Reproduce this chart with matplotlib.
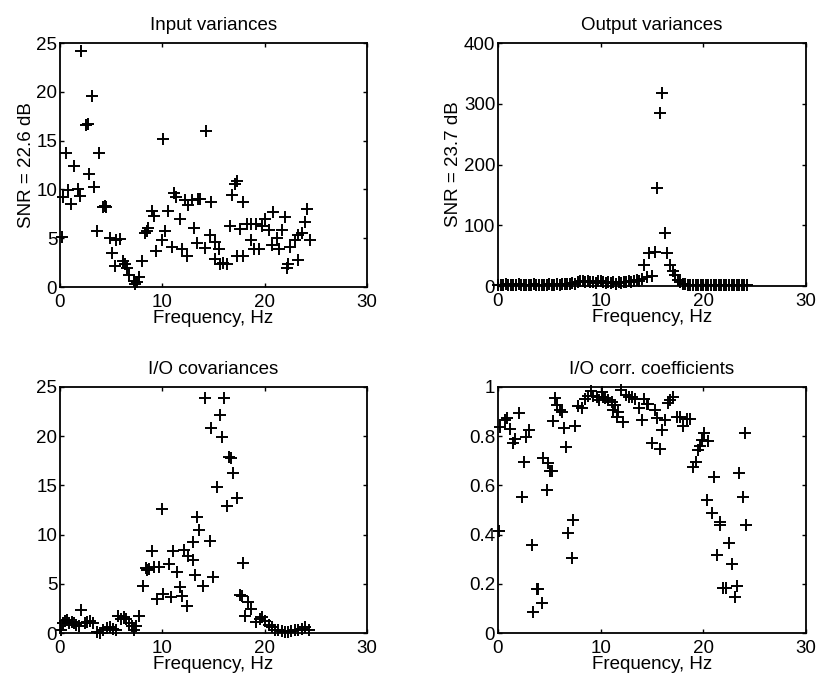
import matplotlib
matplotlib.use("Agg")
import matplotlib.pyplot as plt

plt.rcParams['font.family'] = ['Liberation Sans', 'DejaVu Sans']

# ---- Input variances ----
in_f = [0.16,0.33,0.55,0.8,1.07,1.37,1.73,1.95,2.1,2.55,2.7,2.87,3.1,3.35,3.65,3.8,4.2,4.35,4.5,4.9,
        5.05,5.4,5.5,5.85,6.2,6.35,6.5,6.7,7.2,7.35,7.5,7.7,8.05,8.3,8.5,8.6,8.95,9.2,9.4,9.95,
        10.1,10.3,10.6,10.9,11.1,11.3,11.7,11.9,12.2,12.45,12.55,12.9,13.1,13.35,13.5,13.7,14.2,14.3,14.65,14.8,
        15.1,15.15,15.5,15.6,15.9,16.3,16.6,16.8,17.1,17.3,17.3,17.6,17.9,17.9,18.3,18.7,18.7,19.0,19.2,19.4,
        19.7,20.0,20.4,20.7,20.85,21.2,21.4,21.65,22.0,22.2,22.3,22.5,23.0,23.3,23.3,23.6,23.95,24.1,24.4]
in_v = [5.1,9.2,13.7,9.9,8.5,12.35,10.0,9.3,24.2,16.6,16.7,11.6,19.6,10.2,5.7,13.7,8.2,8.3,8.2,5.0,
        3.5,2.2,4.8,4.9,2.7,2.4,1.9,1.2,0.6,0.3,0.5,1.0,2.7,5.5,5.7,6.0,7.8,7.3,3.7,4.85,
        15.2,5.7,7.8,4.1,9.6,9.2,7.0,3.9,8.9,3.2,8.4,8.9,6.0,4.5,9.0,9.0,4.0,16.0,5.3,8.7,
        4.6,2.9,3.9,2.4,2.5,2.4,6.3,9.4,10.6,10.9,3.2,5.9,8.7,3.2,6.5,6.5,4.85,3.9,6.5,3.9,
        6.2,7.0,5.8,4.3,7.7,5.05,3.9,5.8,7.2,1.9,2.4,4.1,4.8,2.8,5.3,5.5,6.65,8.0,4.85]

# ---- Output variances ----
out_f = [0.0,0.25,0.5,0.75,1.0,1.25,1.5,1.75,2.0,2.25,2.5,2.75,3.0,3.25,3.5,3.75,4.0,4.25,4.5,4.75,
         5.0,5.25,5.5,5.75,6.0,6.25,6.5,6.75,7.0,7.25,7.5,7.75,8.0,8.25,8.5,8.75,9.0,9.25,9.5,9.75,
         10.0,10.25,10.5,10.75,11.0,11.25,11.5,11.75,12.0,12.25,12.5,12.75,13.0,13.25,13.5,13.75,14.0,14.25,14.5,14.75,
         15.0,15.25,15.5,15.75,16.0,16.25,16.5,16.75,17.0,17.25,17.5,17.75,18.0,18.25,18.5,18.75,19.0,19.25,19.5,19.75,
         20.0,20.25,20.5,20.75,21.0,21.25,21.5,21.75,22.0,22.25,22.5,22.75,23.0,23.25,23.5,23.75,24.0,24.25]
out_v = [2,1,2,3,2,1,2,2,3,1,2,2,1,2,3,2,2,1,2,2,
         3,2,2,3,2,3,3,4,3,5,4,6,8,9,7,8,6,7,5,8,
         9,6,5,7,5,6,4,6,5,7,6,8,7,9,10,8,12,35,15,54,
         16,56,162,285,317,87,55,35,25,18,10,6,4,3,2,2,1,2,1,2,
         1,2,1,1,2,1,1,2,1,1,2,1,1,2,1,1,2,1]

# ---- I/O covariances ----
cov_f = [0.07,0.26,0.5,0.65,0.9,1.15,1.37,1.6,1.9,2.1,2.45,2.65,2.9,3.2,3.6,3.9,4.2,4.55,4.9,5.2,
         5.5,5.7,6.0,6.25,6.45,6.7,7.0,7.2,7.4,7.75,8.1,8.4,8.55,8.7,9.0,9.2,9.45,9.7,10.0,10.1,
         10.65,10.85,11.0,11.4,11.7,11.9,12.15,12.4,12.55,13.0,13.0,13.2,13.4,13.6,13.95,14.2,14.65,14.8,14.95,15.3,
         15.6,15.8,16.0,16.3,16.55,16.7,16.9,17.3,17.6,17.75,17.9,18.1,18.4,18.7,19.2,19.5,19.7,20.0,20.4,20.7,
         21.0,21.3,21.65,22.0,22.3,22.6,22.95,23.3,23.6,23.95,24.3]
cov_v = [0.3,1.0,1.2,1.3,1.05,1.15,1.0,0.8,0.7,2.3,1.0,1.15,1.25,1.0,0.15,0.0,0.3,0.5,0.6,0.4,
         0.3,1.7,1.4,1.65,1.4,1.05,0.7,0.3,0.7,1.7,4.8,6.6,6.4,6.5,8.3,6.7,3.5,6.7,12.6,4.0,
         7.0,3.7,8.3,6.2,4.7,3.75,8.4,2.7,7.8,7.4,9.2,5.9,11.75,10.5,4.8,23.85,9.3,20.8,5.65,14.8,
         22.15,19.9,23.85,12.9,17.9,17.8,16.3,13.7,3.9,3.8,7.15,1.7,3.2,2.4,1.15,1.4,1.65,1.25,0.8,0.6,
         0.35,0.3,0.25,0.15,0.15,0.25,0.3,0.35,0.45,0.65,0.35]

# ---- I/O correlation coefficients ----
cor_f = [0.1,0.2,0.7,0.9,1.17,1.43,1.66,2.05,2.3,2.53,2.73,3.05,3.28,3.44,3.8,3.9,4.32,4.35,4.74,4.9,
         5.06,5.3,5.4,5.55,5.7,6.04,6.2,6.43,6.6,6.85,7.17,7.34,7.5,7.82,8.15,8.47,8.8,9.03,9.29,9.6,
         9.87,10.1,10.26,10.4,10.75,11.07,11.23,11.4,11.56,11.72,12.0,12.2,12.5,12.8,13.1,13.35,13.7,14.0,14.2,14.5,
         14.65,14.97,15.3,15.45,15.8,16.0,16.27,16.6,16.75,17.07,17.4,17.7,18.05,18.4,18.7,19.0,19.3,19.5,19.67,19.9,
         20.1,20.35,20.5,20.8,21.07,21.3,21.6,21.6,21.95,22.2,22.5,22.75,23.1,23.25,23.5,23.85,24.06,24.2]
cor_v = [0.415,0.836,0.866,0.875,0.828,0.771,0.79,0.896,0.554,0.696,0.798,0.825,0.358,0.087,0.177,0.177,0.12,0.71,0.581,0.69,
         0.66,0.66,0.862,0.954,0.927,0.906,0.9,0.832,0.755,0.405,0.303,0.459,0.841,0.923,0.913,0.95,0.963,0.985,0.963,0.96,
         0.947,0.981,0.96,0.954,0.947,0.94,0.906,0.927,0.879,0.9,0.988,0.859,0.967,0.958,0.958,0.95,0.913,0.866,0.95,0.93,
         0.93,0.771,0.906,0.873,0.75,0.825,0.866,0.934,0.947,0.958,0.879,0.877,0.841,0.869,0.869,0.676,0.696,0.744,0.76,0.785,
         0.812,0.54,0.782,0.489,0.635,0.317,0.45,0.44,0.183,0.183,0.364,0.28,0.148,0.19,0.649,0.551,0.812,0.439]

titles = ["Input variances", "Output variances", "I/O covariances", "I/O corr. coefficients"]
ylabels = ["SNR = 22.6 dB", "SNR = 23.7 dB", "", ""]
xlabel = "Frequency, Hz"
x_ticks = [0, 10, 20, 30]
y_ticks = [[0, 5, 10, 15, 20, 25], [0, 100, 200, 300, 400], [0, 5, 10, 15, 20, 25],
           [0, 0.2, 0.4, 0.6, 0.8, 1]]
y_ticklabels = [["0", "5", "10", "15", "20", "25"], ["0", "100", "200", "300", "400"],
                ["0", "5", "10", "15", "20", "25"], ["0", "0.2", "0.4", "0.6", "0.8", "1"]]

fig = plt.figure(figsize=(8.2, 6.82), dpi=100)
W, H = 820, 682
boxes = [(60, 43, 307, 244), (498, 43, 308, 243), (60, 387, 307, 246), (498, 387, 308, 246)]
data = [(in_f, in_v), (out_f, out_v), (cov_f, cov_v), (cor_f, cor_v)]
FS = 13.5
for i, (bx, (xs, ys)) in enumerate(zip(boxes, data)):
    l, t, w, h = bx
    ax = fig.add_axes([l / W, 1 - (t + h) / H, w / W, h / H])
    ax.plot(xs, ys, linestyle='none', marker='+', color='black', markersize=8, markeredgewidth=1.4,
            clip_on=False)
    ax.set_xlim(0, 30)
    yt = y_ticks[i]
    ax.set_ylim(yt[0], yt[-1])
    ax.set_xticks(x_ticks)
    ax.set_xticklabels([str(v) for v in x_ticks], fontsize=FS)
    ax.set_yticks(yt)
    ax.set_yticklabels(y_ticklabels[i], fontsize=FS)
    ax.tick_params(direction='in', top=True, right=True, length=3, width=1, colors='black')
    ax.tick_params(axis='x', pad=5)
    ax.tick_params(axis='y', pad=2)
    for s in ax.spines.values():
        s.set_linewidth(1.3)
        s.set_color('black')
    ax.set_title(titles[i], fontsize=FS, pad=9)
    ax.set_xlabel(xlabel, fontsize=FS, labelpad=-1)
    if ylabels[i]:
        ax.set_ylabel(ylabels[i], fontsize=FS, labelpad=1)

fig.savefig("out.png", dpi=100)
